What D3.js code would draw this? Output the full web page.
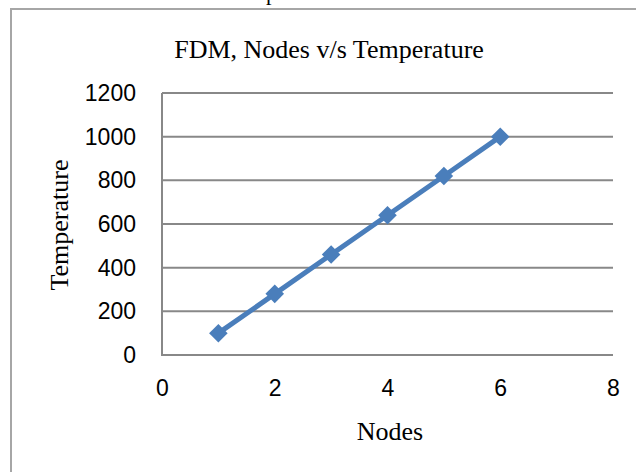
<!DOCTYPE html>
<html>
<head>
<meta charset="utf-8">
<script src="https://cdn.jsdelivr.net/npm/d3@7"></script>
<style>
html,body{margin:0;padding:0;background:#fff;overflow:hidden;}
</style>
</head>
<body>
<svg id="chart" width="636" height="472"></svg>
<script>
const nodes = [1, 2, 3, 4, 5, 6];
const temperature = [100, 280, 460, 640, 820, 1000];
const xTicks = [0, 2, 4, 6, 8];
const yTicks = [0, 200, 400, 600, 800, 1000, 1200];
const titleText = "FDM, Nodes v/s Temperature";
const xLabel = "Nodes";
const yLabel = "Temperature";

const svg = d3.select("#chart");
const serif = "'Liberation Serif','Times New Roman',serif";
const sans = "'Liberation Sans',Arial,sans-serif";

// outer border (chart area frame)
svg.append("path")
  .attr("d", "M11,480 L11,9 L650,9")
  .attr("fill", "none").attr("stroke", "#a6a6a6").attr("stroke-width", 2);

// partial text above frame (cut off in the reference too)
svg.append("text").attr("x", 266).attr("y", 0)
  .attr("font-family", serif).attr("font-size", 22).text("p");

const x = d3.scaleLinear().domain([0, 8]).range([162, 613]);
const y = d3.scaleLinear().domain([0, 1200]).range([355, 93]);

// gridlines
svg.append("g").selectAll("line").data(yTicks).join("line")
  .attr("x1", x(0)).attr("x2", x(8))
  .attr("y1", d => y(d)).attr("y2", d => y(d))
  .attr("stroke", "#888").attr("stroke-width", 2);

// y axis line
svg.append("line").attr("x1", x(0)).attr("x2", x(0))
  .attr("y1", y(0) + 1).attr("y2", y(1200))
  .attr("stroke", "#888").attr("stroke-width", 2);

// y axis labels
const yAxis = d3.axisLeft(y).tickValues(yTicks).tickSize(0).tickPadding(26).tickFormat(d3.format("d"));
const gy = svg.append("g").attr("transform", `translate(${x(0)},0)`).call(yAxis);
gy.select(".domain").remove();
gy.selectAll("text").attr("font-family", sans).attr("font-size", 23).attr("fill", "#000");

// x axis labels
const xAxis = d3.axisBottom(x).tickValues(xTicks).tickSize(0).tickPadding(25).tickFormat(d3.format("d"));
const gx = svg.append("g").attr("transform", `translate(0,${y(0)})`).call(xAxis);
gx.select(".domain").remove();
gx.selectAll("text").attr("font-family", sans).attr("font-size", 23).attr("fill", "#000");

// line
const pts = nodes.map((n, i) => [n, temperature[i]]);
svg.append("path").datum(pts)
  .attr("d", d3.line().x(d => x(d[0])).y(d => y(d[1])))
  .attr("fill", "none").attr("stroke", "#4a7ebb").attr("stroke-width", 5);

// markers
svg.append("g").selectAll("path").data(pts).join("path")
  .attr("transform", d => `translate(${x(d[0])},${y(d[1])})`)
  .attr("d", d3.symbol().type(d3.symbolDiamond2).size(220))
  .attr("fill", "#4a7ebb");

// title
svg.append("text").attr("x", 329).attr("y", 58).attr("text-anchor", "middle")
  .attr("font-family", serif).attr("font-size", 26).text(titleText);

// axis titles
svg.append("text").attr("x", 390).attr("y", 440).attr("text-anchor", "middle")
  .attr("font-family", serif).attr("font-size", 26).text(xLabel);
svg.append("text").attr("transform", "translate(68,225) rotate(-90)")
  .attr("text-anchor", "middle")
  .attr("font-family", serif).attr("font-size", 26).text(yLabel);
</script>
</body>
</html>
